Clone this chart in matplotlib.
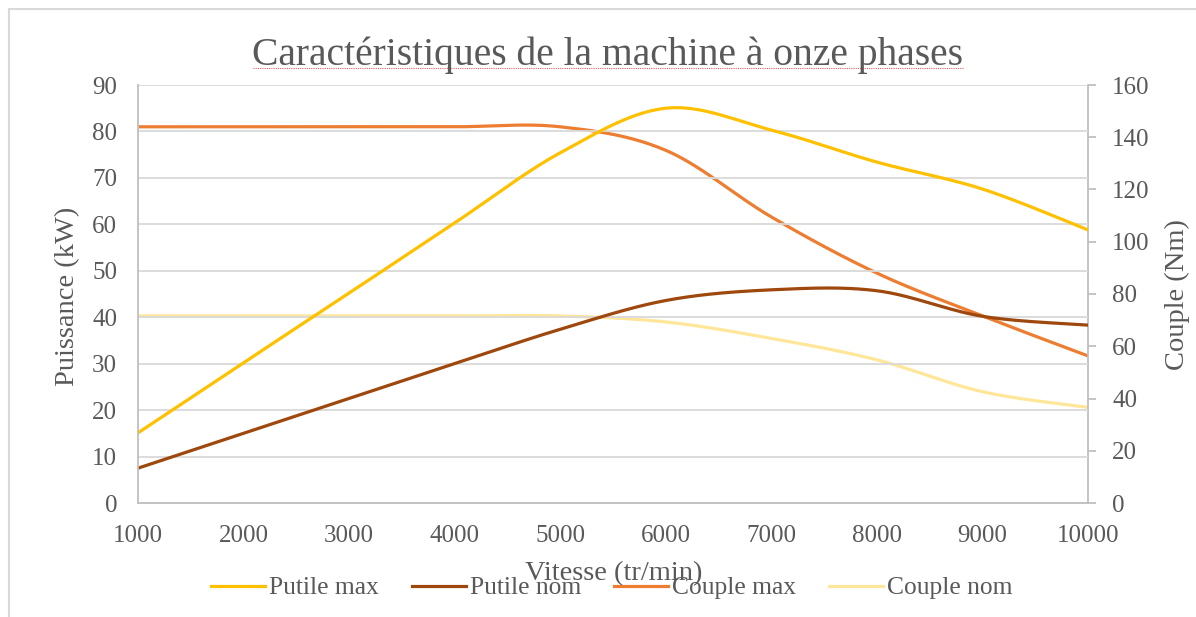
import numpy as np
import matplotlib
matplotlib.use("Agg")
import matplotlib.pyplot as plt
from matplotlib.lines import Line2D
from matplotlib.patches import Rectangle

# Speed (tr/min)
vitesse = [1000, 2000, 3000, 4000, 5000, 6000, 7000, 8000, 9000, 10000]
# Power (kW) - left axis
putile_max = [15.1, 30.2, 45.2, 60.3, 75.4, 85.0, 80.3, 73.4, 67.6, 58.8]
putile_nom = [7.5, 15.0, 22.5, 30.0, 37.4, 43.6, 45.9, 45.7, 40.2, 38.3]
# Torque (Nm) - right axis
couple_max = [144.0, 144.0, 144.0, 144.0, 144.0, 135.0, 109.5, 88.0, 71.6, 56.3]
couple_nom = [71.6, 71.6, 71.6, 71.6, 71.6, 69.3, 63.0, 54.8, 42.6, 36.6]

x_ticks = [1000, 2000, 3000, 4000, 5000, 6000, 7000, 8000, 9000, 10000]
left_ticks = [0, 10, 20, 30, 40, 50, 60, 70, 80, 90]
right_ticks = [0, 20, 40, 60, 80, 100, 120, 140, 160]

TEXT = "#595959"
GRID = "#D9D9D9"
AXIS = "#BFBFBF"
FONT = ["Liberation Serif", "DejaVu Serif"]

plt.rcParams["font.family"] = FONT
plt.rcParams["text.color"] = TEXT

W, H = 1196, 617


def fx(px):
    return px / W


def fy(py):
    return 1 - py / H


def smooth(xs, ys, n=40):
    """Cubic Bezier smoothing through every point (Catmull-Rom style)."""
    p = np.column_stack([xs, ys]).astype(float)
    p_ext = np.vstack([p[0], p, p[-1]])
    out = []
    t = np.linspace(0, 1, n)[:, None]
    for i in range(len(p) - 1):
        p0, p1, p2, p3 = p_ext[i], p_ext[i + 1], p_ext[i + 2], p_ext[i + 3]
        c1 = p1 + (p2 - p0) / 6.0
        c2 = p2 - (p3 - p1) / 6.0
        seg = ((1 - t) ** 3) * p1 + 3 * ((1 - t) ** 2) * t * c1 \
            + 3 * (1 - t) * t ** 2 * c2 + t ** 3 * p2
        out.append(seg if i == 0 else seg[1:])
    seg = np.vstack(out)
    return seg[:, 0], seg[:, 1]


fig = plt.figure(figsize=(11.96, 6.17), dpi=100)
ax = fig.add_axes([fx(138), fy(503), (1088 - 138) / W, (503 - 85) / H])
ax2 = ax.twinx()

lw = 2.3
c_pmax, c_pnom, c_cmax, c_cnom = "#FFC000", "#9E480E", "#ED7D31", "#FFE699"

ax2.plot(*smooth(vitesse, couple_nom), color=c_cnom, lw=lw, solid_capstyle="round")
ax2.plot(*smooth(vitesse, couple_max), color=c_cmax, lw=lw, solid_capstyle="round")
ax.plot(*smooth(vitesse, putile_nom), color=c_pnom, lw=lw, solid_capstyle="round")
ax.plot(*smooth(vitesse, putile_max), color=c_pmax, lw=lw, solid_capstyle="round")
ax.set_zorder(ax2.get_zorder() + 1)
ax.patch.set_visible(False)

ax.set_xlim(1000, 10000)
ax.set_ylim(0, 90)
ax2.set_ylim(0, 160)
ax.set_xticks(x_ticks)
ax.set_yticks(left_ticks)
ax2.set_yticks(right_ticks)

ax.grid(axis="y", color=GRID, lw=1.3)
ax.set_axisbelow(True)

ax.spines["top"].set_visible(False)
ax2.spines["top"].set_visible(False)
ax.spines["right"].set_visible(False)
ax2.spines["left"].set_visible(False)
ax2.spines["bottom"].set_visible(False)
for sp in [ax.spines["left"], ax.spines["bottom"], ax2.spines["right"]]:
    sp.set_color(AXIS)
    sp.set_linewidth(1.3)

TICK_FS = 18
ax.tick_params(axis="x", length=0, pad=16, labelsize=TICK_FS, labelcolor=TEXT)
ax.tick_params(axis="y", length=0, pad=15, labelsize=TICK_FS, labelcolor=TEXT)
ax2.tick_params(axis="y", length=5.5, width=1.3, color=AXIS, pad=12,
                labelsize=TICK_FS, labelcolor=TEXT)

LABEL_FS = 20.5
fig.text(fx(68), fy(296), "Puissance (kW)", fontsize=LABEL_FS, color=TEXT,
         rotation=90, ha="center", va="center")
fig.text(fx(1177), fy(295), "Couple (Nm)", fontsize=LABEL_FS, color=TEXT,
         rotation=90, ha="center", va="center")
fig.text(fx(614), fy(580), "Vitesse (tr/min)", fontsize=LABEL_FS,
         color=TEXT, ha="center", va="baseline")

title = fig.text(fx(608), fy(65), "Caractéristiques de la machine à onze phases",
                 fontsize=28.5, color=TEXT, ha="center", va="baseline")

handles = [Line2D([], [], color=c, lw=lw) for c in (c_pmax, c_pnom, c_cmax, c_cnom)]
labels = ["Putile max", "Putile nom", "Couple max", "Couple nom"]
fig.legend(handles, labels, loc="center", bbox_to_anchor=(fx(612), fy(588)),
           ncol=4, frameon=False, fontsize=18.4, handlelength=2.1, handletextpad=0.16,
           columnspacing=1.3, labelcolor=TEXT, borderpad=0)

# chart area border
fig.add_artist(Rectangle((fx(9), -0.1), 1.2, fy(9) + 0.1, transform=fig.transFigure,
                         fill=False, edgecolor=GRID, lw=1.5))

# dotted underline beneath the title
fig.canvas.draw()
bb = title.get_window_extent(fig.canvas.get_renderer()).transformed(fig.transFigure.inverted())
uy = fy(68)
fig.add_artist(Line2D([bb.x0, bb.x1], [uy, uy], transform=fig.transFigure,
                      color="#E06060", lw=0.8, ls=(0, (1, 1))))

fig.savefig("out.png", dpi=100, facecolor="white")
